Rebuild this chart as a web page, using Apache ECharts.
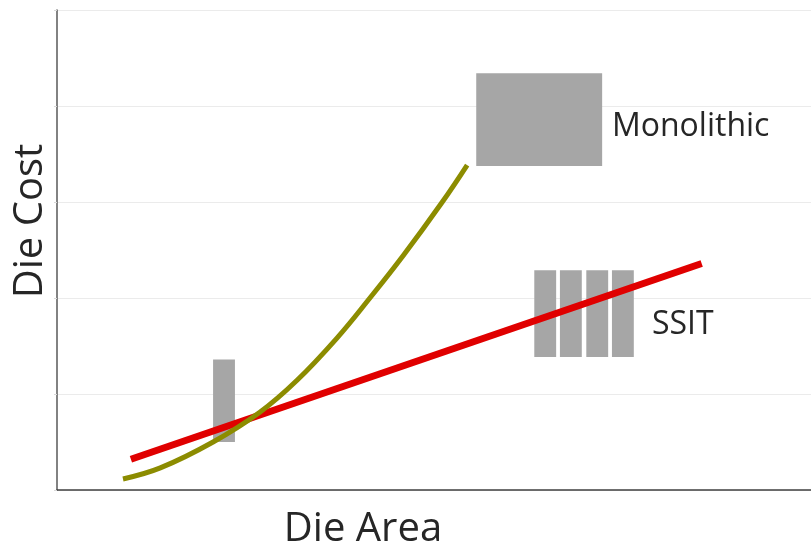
<!DOCTYPE html>
<html>
<head>
<meta charset="utf-8">
<script src="https://cdn.jsdelivr.net/npm/echarts@6/dist/echarts.min.js"></script>
<style>
  html, body { margin: 0; padding: 0; background: #fff; }
  #chart { width: 811px; height: 543px; }
</style>
</head>
<body>
<div id="chart"></div>
<script>
// die area (x) vs die cost (y), arbitrary units
const monolithicCurve = [
  [0.875, 0.115], [1.37, 0.23], [2.07, 0.5], [2.69, 0.81], [3.18, 1.14],
  [3.71, 1.58], [4.15, 2.0], [4.59, 2.44], [5.11, 3.0], [5.44, 3.385]
]
const ssitLine = [[0.98, 0.32], [8.55, 2.36]]

// die blocks: [x0, x1, y0, y1]
const smallDie = [[2.07, 2.36, 0.5, 1.36]]
const monolithicDie = [[5.56, 7.23, 3.375, 4.34]]
const ssitDies = [
  [6.33, 6.62, 1.385, 2.29],
  [6.67, 6.96, 1.385, 2.29],
  [7.02, 7.31, 1.385, 2.29],
  [7.36, 7.65, 1.385, 2.29]
]
const labels = [
  ['Monolithic', 7.36, 3.78],
  ['SSIT', 7.89, 1.72]
]

const chart = echarts.init(document.getElementById('chart'))

const rectItem = (params, api) => {
  const p0 = api.coord([api.value(0), api.value(3)])
  const p1 = api.coord([api.value(1), api.value(2)])
  return {
    type: 'rect',
    shape: { x: p0[0], y: p0[1], width: p1[0] - p0[0], height: p1[1] - p0[1] },
    style: { fill: '#a6a6a6' }
  }
}

const option = {
  animation: false,
  grid: { left: 57, right: 0, top: 10, bottom: 53, outerBoundsMode: 'none' },
  xAxis: {
    type: 'value',
    min: 0,
    max: 10,
    name: 'Die Area',
    nameLocation: 'middle',
    nameGap: 20,
    nameTextStyle: {
      fontFamily: 'Open Sans',
      fontSize: 40,
      color: '#262626',
      padding: [0, 142, 0, 0]
    },
    axisLine: { lineStyle: { color: '#404040', width: 1.5 } },
    axisTick: { show: false },
    axisLabel: { show: false },
    splitLine: { show: false }
  },
  yAxis: {
    type: 'value',
    min: 0,
    max: 5,
    interval: 1,
    name: 'Die Cost',
    nameLocation: 'middle',
    nameGap: 6,
    nameRotate: 90,
    nameTextStyle: {
      fontFamily: 'Open Sans',
      fontSize: 40,
      color: '#262626',
      padding: [0, 0, 0, 58]
    },
    axisLine: { show: true, lineStyle: { color: '#595959', width: 1.5 } },
    axisTick: { show: true, length: 3, lineStyle: { color: '#d9d9d9' } },
    axisLabel: { show: false },
    splitLine: { lineStyle: { color: '#ebebeb', width: 1 } }
  },
  series: [
    {
      name: 'SSIT',
      type: 'line',
      data: ssitLine,
      showSymbol: false,
      lineStyle: { color: '#e00000', width: 7 }
    },
    {
      name: 'Monolithic',
      type: 'line',
      data: monolithicCurve,
      smooth: 0.4,
      showSymbol: false,
      lineStyle: { color: '#8c8c00', width: 5 }
    },
    { type: 'custom', renderItem: rectItem, data: smallDie },
    { type: 'custom', renderItem: rectItem, data: monolithicDie },
    { type: 'custom', renderItem: rectItem, data: ssitDies },
    {
      type: 'custom',
      data: labels,
      renderItem: (params, api) => {
        const p = api.coord([api.value(1), api.value(2)])
        return {
          type: 'text',
          x: p[0],
          y: p[1],
          style: {
            text: labels[params.dataIndex][0],
            fontFamily: 'Open Sans',
            fontSize: 32,
            fill: '#262626',
            verticalAlign: 'middle'
          }
        }
      }
    }
  ]
}

chart.setOption(option)
</script>
</body>
</html>
